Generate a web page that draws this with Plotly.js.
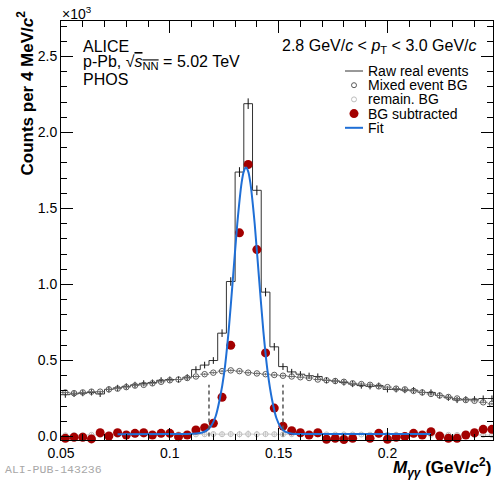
<!DOCTYPE html>
<html><head><meta charset="utf-8">
<script src="https://cdn.plot.ly/plotly-3.0.1.min.js"></script>
<style>html,body{margin:0;padding:0;background:#fff}#chart{width:494px;height:483px}</style>
</head><body><div id="chart"></div>
<script>
// ---- data (counts in units of 10^3 per 4 MeV/c^2) ----
const binWidth = 0.004;
const binCenters = [0.052,0.056,0.060,0.064,0.068,0.072,0.076,0.080,0.084,0.088,
  0.092,0.096,0.100,0.104,0.108,0.112,0.116,0.120,0.124,0.128,
  0.132,0.136,0.140,0.144,0.148,0.152,0.156,0.160,0.164,0.168,
  0.172,0.176,0.180,0.184,0.188,0.192,0.196,0.200,0.204,0.208,
  0.212,0.216,0.220,0.224,0.228,0.232,0.236,0.240,0.244,0.248];
const rawCounts = [0.275,0.280,0.285,0.290,0.280,0.310,0.320,0.330,0.340,0.350,
  0.355,0.370,0.375,0.375,0.390,0.440,0.470,0.500,0.680,1.020,
  1.740,2.190,1.620,0.950,0.590,0.460,0.425,0.410,0.400,0.395,
  0.370,0.365,0.355,0.345,0.335,0.330,0.335,0.310,0.310,0.305,
  0.305,0.290,0.290,0.270,0.255,0.240,0.245,0.245,0.250,0.250];
const rawErr = [0.02,0.02,0.02,0.02,0.02,0.02,0.02,0.02,0.02,0.02,
  0.02,0.02,0.02,0.02,0.02,0.022,0.022,0.022,0.025,0.028,
  0.032,0.035,0.032,0.028,0.025,0.022,0.02,0.02,0.02,0.02,
  0.02,0.02,0.02,0.02,0.02,0.02,0.02,0.02,0.02,0.02,
  0.02,0.02,0.02,0.02,0.02,0.02,0.02,0.02,0.02,0.02];
const mixedBG = [0.290,0.285,0.290,0.295,0.295,0.310,0.315,0.325,0.335,0.340,
  0.350,0.360,0.370,0.375,0.385,0.395,0.410,0.420,0.430,0.435,
  0.430,0.420,0.415,0.410,0.405,0.400,0.395,0.390,0.385,0.375,
  0.370,0.365,0.360,0.350,0.345,0.340,0.330,0.325,0.315,0.310,
  0.300,0.290,0.280,0.270,0.260,0.250,0.240,0.235,0.225,0.215];
const mixedErr = [0.008,0.008,0.008,0.008,0.008,0.008,0.008,0.008,0.008,0.008,
  0.008,0.008,0.008,0.008,0.008,0.008,0.008,0.008,0.008,0.008,
  0.008,0.008,0.008,0.008,0.008,0.008,0.008,0.008,0.008,0.008,
  0.008,0.008,0.008,0.008,0.008,0.008,0.008,0.008,0.008,0.008,
  0.008,0.008,0.008,0.008,0.008,0.008,0.008,0.008,0.008,0.008];
const remainBG = [0.008,0.010,0.009,0.011,0.010,0.012,0.011,0.012,0.013,0.012,
  0.013,0.014,0.013,0.014,0.015,0.014,0.015,0.016,0.015,0.016,
  0.015,0.016,0.015,0.016,0.015,0.014,0.015,0.014,0.015,0.014,
  0.014,0.013,0.014,0.013,0.013,0.012,0.013,0.012,0.012,0.011,
  0.012,0.011,0.011,0.010,0.011,0.010,0.010,0.009,0.010,0.009];
const remainErr = [0.012,0.012,0.012,0.012,0.012,0.012,0.012,0.012,0.012,0.012,
  0.012,0.012,0.012,0.012,0.014,0.016,0.016,0.017,0.018,0.020,
  0.022,0.024,0.022,0.020,0.018,0.017,0.016,0.015,0.014,0.013,
  0.012,0.012,0.012,0.012,0.012,0.012,0.012,0.012,0.012,0.012,
  0.012,0.012,0.012,0.012,0.012,0.012,0.012,0.012,0.012,0.012];
const bgSubtracted = [-0.012,-0.005,-0.005,-0.016,0.025,0.003,0.025,0.010,0.021,0.025,
  0.010,0.021,0.021,-0.001,0.010,0.043,0.058,0.087,0.258,0.600,
  1.340,1.790,1.230,0.550,0.187,0.068,0.038,0.025,0.010,0.025,
  -0.018,-0.012,-0.020,-0.012,-0.027,-0.012,0.021,-0.018,-0.005,0.000,
  0.021,0.010,0.032,0.003,-0.012,-0.012,0.010,0.025,0.047,0.047];
const fitX = [0.076,0.100,0.108,0.112,0.115,0.117,0.119,0.121,0.123,0.125,0.127,0.129,0.131,0.133,0.134,
  0.135,0.136,0.137,0.139,0.141,0.143,0.145,0.147,0.149,0.151,0.153,0.155,0.158,0.165,0.220];
const fitY = [0.015,0.016,0.017,0.020,0.026,0.040,0.070,0.130,0.250,0.420,0.690,1.040,1.400,1.670,1.745,
  1.770,1.745,1.670,1.400,1.040,0.690,0.420,0.240,0.120,0.060,0.032,0.022,0.017,0.016,0.016];
const integrationEdges = [0.118, 0.152];
const integrationHeight = 0.34;

// ---- build step outline of the raw histogram from the bin values ----
const stepX = binCenters.map(c => c - binWidth/2).concat([binCenters[binCenters.length-1] + binWidth/2]);
const stepY = rawCounts.concat([rawCounts[rawCounts.length-1]]);

const FONT = 'Liberation Sans, Arial, Helvetica, sans-serif';
const RED = '#a30000', BLUE = '#1f6fd6';

const traces = [
  {x: stepX, y: stepY, mode: 'lines', line: {color: '#333', width: 1, shape: 'hv'}, hoverinfo: 'skip'},
  {x: binCenters, y: rawCounts, mode: 'markers', marker: {size: 1, color: 'rgba(0,0,0,0)'},
   error_y: {type: 'data', array: rawErr, color: '#111', thickness: 1, width: 0}},
  {x: binCenters, y: remainBG, mode: 'markers',
   marker: {symbol: 'circle-open', size: 5, color: '#bdbdbd', line: {width: 1}},
   error_x: {type: 'constant', value: binWidth/2, color: '#c8c8c8', thickness: 1, width: 0},
   error_y: {type: 'data', array: remainErr, color: '#c8c8c8', thickness: 1, width: 0}},
  {x: binCenters, y: mixedBG, mode: 'markers',
   marker: {symbol: 'circle-open', size: 5.5, color: '#5a5a5a', line: {width: 1}},
   error_x: {type: 'constant', value: binWidth/2, color: '#707070', thickness: 1, width: 0},
   error_y: {type: 'data', array: mixedErr, color: '#707070', thickness: 1, width: 0}},
  {x: binCenters, y: bgSubtracted, mode: 'markers', cliponaxis: false,
   marker: {symbol: 'circle', size: 9, color: RED, line: {width: 0}}},
  {x: fitX, y: fitY, mode: 'lines', line: {color: BLUE, width: 2, shape: 'spline', smoothing: 0.6}}
];

const shapes = integrationEdges.map(e => ({type: 'line', xref: 'x', yref: 'y', x0: e, x1: e, y0: 0, y1: integrationHeight,
  line: {color: '#555', width: 1.5, dash: '4px,3px'}}));

// legend drawn by hand (ROOT style, compact rows)
const L = 61, W = 432, B = 440, H = 419;
const px = v => (v - L) / W, py = v => (B - v) / H;
const legendRows = [71, 85.2, 99.4, 113.6, 127.8];
const legendLabels = ['Raw real events', 'Mixed event BG', 'remain. BG', 'BG subtracted', 'Fit'];
shapes.push({type: 'line', xref: 'paper', yref: 'paper', x0: px(345), x1: px(363), y0: py(legendRows[0]), y1: py(legendRows[0]), line: {color: '#333', width: 1}});
shapes.push({type: 'circle', xref: 'paper', yref: 'paper', xsizemode: 'pixel', ysizemode: 'pixel', xanchor: px(354), yanchor: py(legendRows[1]), x0: -2.5, x1: 2.5, y0: -2.5, y1: 2.5, line: {color: '#5a5a5a', width: 1}});
shapes.push({type: 'circle', xref: 'paper', yref: 'paper', xsizemode: 'pixel', ysizemode: 'pixel', xanchor: px(354), yanchor: py(legendRows[2]), x0: -2.5, x1: 2.5, y0: -2.5, y1: 2.5, line: {color: '#bdbdbd', width: 1}});
shapes.push({type: 'circle', xref: 'paper', yref: 'paper', xsizemode: 'pixel', ysizemode: 'pixel', xanchor: px(354), yanchor: py(legendRows[3]), x0: -4.5, x1: 4.5, y0: -4.5, y1: 4.5, fillcolor: RED, line: {width: 0}});
shapes.push({type: 'line', xref: 'paper', yref: 'paper', x0: px(345), x1: px(363), y0: py(legendRows[4]), y1: py(legendRows[4]), line: {color: BLUE, width: 2}});

const annotations = legendLabels.map((t, i) => ({text: t, xref: 'paper', yref: 'paper', x: px(367), y: py(legendRows[i]),
  xanchor: 'left', yanchor: 'middle', showarrow: false, borderpad: 0, font: {size: 14, family: FONT, color: '#000'}}));

annotations.push(
  {text: '×10<sup>3</sup>', xref: 'paper', yref: 'paper', x: px(60), y: 1, xanchor: 'left', yanchor: 'bottom', yshift: -3, showarrow: false, font: {size: 14, family: FONT}},
  {text: '<b>Counts per 4 MeV/<i>c</i><sup>2</sup></b>', textangle: -90, xref: 'paper', yref: 'paper', x: px(25), y: 1, xanchor: 'center', yanchor: 'top', yshift: 12, showarrow: false, font: {size: 17, family: FONT}},
  {text: '<b><i>M</i><sub><i>γγ</i></sub> (GeV/<i>c</i><sup>2</sup>)</b>', xref: 'paper', yref: 'paper', x: 1, y: py(467), xanchor: 'right', yanchor: 'middle', showarrow: false, font: {size: 17, family: FONT}},
  {text: 'ALICE', xref: 'paper', yref: 'paper', x: px(81), y: py(46), xanchor: 'left', yanchor: 'middle', showarrow: false, font: {size: 16, family: FONT}},
  {text: 'p-Pb, √<span style="text-decoration:overline"><i>s</i><sub>NN</sub></span> = 5.02 TeV', xref: 'paper', yref: 'paper', x: px(81), y: py(63), xanchor: 'left', yanchor: 'middle', showarrow: false, font: {size: 16, family: FONT}},
  {text: 'PHOS', xref: 'paper', yref: 'paper', x: px(81), y: py(79), xanchor: 'left', yanchor: 'middle', showarrow: false, font: {size: 16, family: FONT}},
  {text: '2.8 GeV/<i>c</i> < <i>p</i><sub>T</sub> < 3.0 GeV/<i>c</i>', xref: 'paper', yref: 'paper', x: px(479), y: py(46), xanchor: 'right', yanchor: 'middle', showarrow: false, font: {size: 16, family: FONT}},
  {text: 'ALI-PUB-143236', xref: 'paper', yref: 'paper', x: px(3), y: py(469), xanchor: 'left', yanchor: 'middle', showarrow: false, font: {size: 11.5, family: 'Liberation Mono, DejaVu Sans Mono, monospace', color: '#a8a8a8'}}
);

const axisCommon = {
  ticks: 'inside', ticklen: 12, tickwidth: 1, tickcolor: '#000', mirror: 'ticks',
  showline: true, linecolor: '#000', linewidth: 1, zeroline: false, showgrid: false,
  tickfont: {size: 14, family: FONT, color: '#000'}
};
const layout = {
  width: 494, height: 483,
  margin: {l: 61, r: 1, t: 21, b: 43, pad: 0},
  paper_bgcolor: '#fff', plot_bgcolor: '#fff',
  font: {family: FONT, color: '#000', size: 14},
  showlegend: false,
  xaxis: Object.assign({}, axisCommon, {range: [0.05, 0.2485], tick0: 0.05, dtick: 0.05,
    minor: {dtick: 0.01, ticks: 'inside', ticklen: 6, tickcolor: '#000', showgrid: false}}),
  yaxis: Object.assign({}, axisCommon, {range: [-0.023, 2.734], tick0: 0, dtick: 0.5, tickformat: '.1f',
    minor: {dtick: 0.1, ticks: 'inside', ticklen: 6, tickcolor: '#000', showgrid: false}}),
  shapes: shapes,
  annotations: annotations
};
Plotly.newPlot('chart', traces, layout, {staticPlot: true, displayModeBar: false});
</script></body></html>
